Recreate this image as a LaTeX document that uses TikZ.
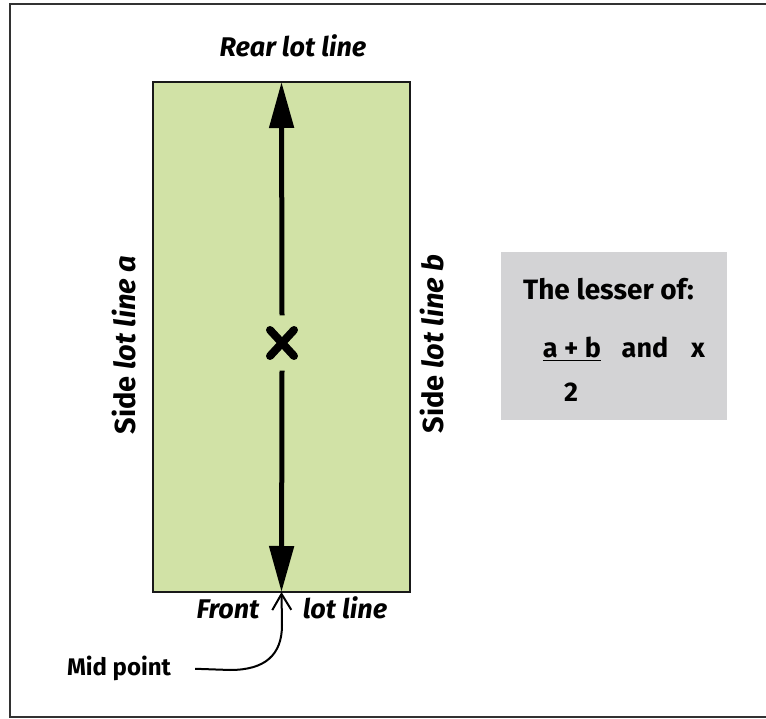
\documentclass[tikz,border=0pt]{standalone}
\usepackage{fontspec}
\setmainfont{Fira Sans}
\usetikzlibrary{arrows.meta}
\definecolor{lotgreen}{RGB}{209,226,166}
\definecolor{notegray}{RGB}{211,211,213}
\definecolor{framegray}{RGB}{50,50,50}
\begin{document}
\begin{tikzpicture}[
    x=1pt, y=-1pt,
    lot/.style={
        rectangle,
        minimum width=257pt,
        minimum height=510pt,
        draw=black!90,
        line width=2.5pt,
        fill=lotgreen,
        outer sep=0pt
    },
    shaft/.style={
        line width=5pt,
        -{Triangle[length=46pt,width=24pt]}
    },
    gap/.style={
        rectangle,
        minimum size=55pt,
        inner sep=0pt
    },
    stroke/.style={
        line width=8pt,
        line cap=round
    },
    label/.style={
        font=\fontsize{27}{31}\selectfont\bfseries,
        inner sep=0pt
    },
    note/.style={
        rectangle,
        minimum width=226pt,
        minimum height=168pt,
        fill=notegray
    },
    pointer/.style={
        line width=2pt,
        -{Straight Barb[length=16pt,width=19pt]}
    }
]
\useasboundingbox (0,0) rectangle (766,719);

% Frame
\draw[framegray, line width=2pt] (766,4) -- (10,4) -- (10,717) -- (766,717);

\node[lot] (lot) at (281.5,337) {};
\node[gap] (cross) at (282,343) {};
\draw[stroke] (270,330) -- (294,356);
\draw[stroke] (270,356) -- (294,330);

\node[note] (box) at (614,336) {};

% Arrows
\draw[shaft] (cross.north) -- (lot.north);
\draw[shaft] (cross.south) -- (lot.south);

% Lot lines
\node[label, anchor=base] (rear) at (293,57) {\itshape Rear lot line};
\node[label, anchor=base] (front) at (228,618) {\itshape Front};
\node[label, anchor=base] (frontb) at (345,618) {\itshape lot line};
\node[label, anchor=base, rotate=90, font=\fontsize{29}{33}\selectfont\bfseries] (sidea) at (135,345) {Side \itshape lot line a};
\node[label, anchor=base, rotate=90, font=\fontsize{29}{33}\selectfont\bfseries] (sideb) at (443,344) {Side \itshape lot line b};

% Mid point
\node[label, anchor=base, font=\fontsize{24}{28}\selectfont\bfseries] (mid) at (119,675) {Mid point};
\draw[pointer, shorten <=24pt] (mid.east) -- (230,670)
    .. controls (265,670) and (282,655) .. (282,625) -- (lot.south);

% Rule
\node[label, anchor=base west, font=\fontsize{28}{32}\selectfont\bfseries] (lesser) at (523,300) {The lesser of:};
\node[label, anchor=base] (sum) at (572,358) {\underline{a + b}};
\node[label, anchor=base] (and) at (645,358) {and};
\node[label, anchor=base] (xval) at (698,358) {x};
\node[label, anchor=base] (two) at (571,402) {2};

\end{tikzpicture}
\end{document}
